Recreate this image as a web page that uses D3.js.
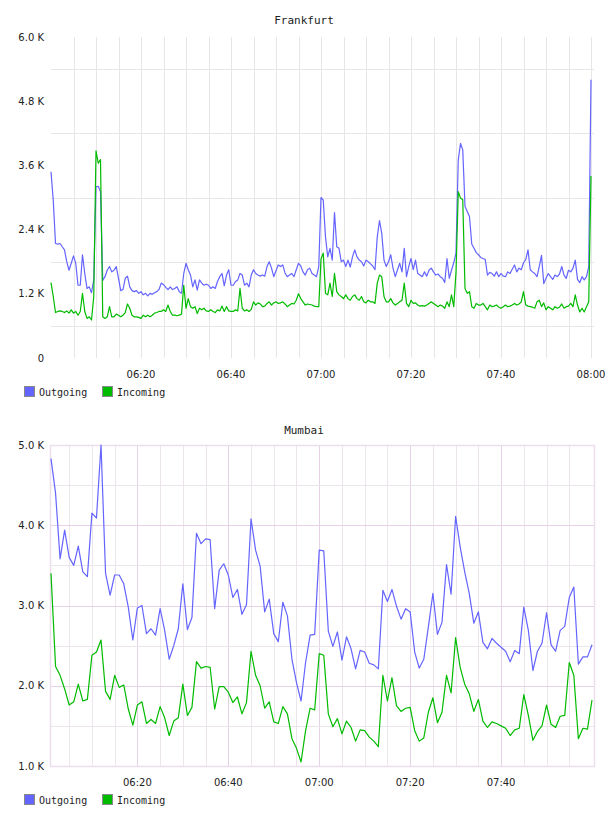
<!DOCTYPE html>
<html><head><meta charset="utf-8">
<script src="https://cdn.jsdelivr.net/npm/d3@7"></script>
<style>
html,body{margin:0;padding:0;background:#fff;}
svg{display:block;}
text{fill:#222;}
</style></head>
<body><svg id="c" width="608" height="816"></svg>
<script>
// ---------- DATA ----------
const seriesNames = ["Outgoing", "Incoming"];
const seriesColors = ["#6464ff", "#00bb00"];

// Frankfurt: one sample every 30 s from 06:00 to 08:00 (values in K)
const frankfurtStart = "06:00";
const frankfurtStepSec = 30;
const frankfurtOutgoing = [
3.48,2.95,2.14,2.13,2.14,2.08,2.02,1.80,1.64,1.77,1.91,1.77,1.36,1.36,1.93,1.58,1.30,1.33,1.22,1.46,
3.20,3.21,3.11,1.45,1.52,1.64,1.71,1.61,1.64,1.71,1.49,1.26,1.28,1.49,1.53,1.33,1.26,1.24,1.26,1.21,
1.24,1.18,1.21,1.16,1.21,1.19,1.22,1.24,1.28,1.40,1.37,1.32,1.28,1.33,1.28,1.30,1.33,1.24,1.21,1.58,
1.77,1.65,1.55,1.33,1.46,1.27,1.46,1.40,1.36,1.38,1.36,1.30,1.33,1.30,1.43,1.52,1.58,1.35,1.55,1.65,
1.36,1.36,1.43,1.46,1.58,1.55,1.36,1.40,1.33,1.55,1.65,1.58,1.55,1.53,1.55,1.53,1.71,1.80,1.68,1.52,
1.63,1.74,1.71,1.74,1.59,1.52,1.55,1.58,1.52,1.65,1.77,1.72,1.61,1.55,1.65,1.68,1.58,1.55,1.52,1.71,
3.00,2.95,2.26,1.89,2.05,1.83,2.72,2.08,2.05,1.80,1.83,1.71,1.83,1.70,1.89,2.02,1.89,1.83,1.80,1.72,
1.83,1.80,1.76,1.72,1.65,2.26,2.57,2.33,1.83,1.71,1.80,1.93,1.68,1.52,1.65,1.77,1.61,2.05,1.52,1.71,
1.86,1.65,1.83,1.58,1.55,1.52,1.61,1.53,1.64,1.68,1.61,1.55,1.57,1.52,1.49,1.41,1.86,1.49,1.64,1.78,
1.96,3.70,4.01,3.89,2.83,2.74,2.64,2.13,2.05,1.97,1.93,1.88,1.86,1.84,1.55,1.60,1.58,1.53,1.61,1.52,
1.58,1.53,1.52,1.61,1.58,1.66,1.74,1.61,1.68,1.65,1.78,1.84,2.02,1.65,1.61,1.58,1.52,1.71,1.92,1.39,
1.49,1.58,1.52,1.47,1.55,1.52,1.57,1.71,1.55,1.49,1.64,1.61,1.68,1.83,1.47,1.41,1.52,1.46,1.52,1.71,
5.20];
const frankfurtIncoming = [
1.41,1.15,0.85,0.87,0.88,0.87,0.85,0.88,0.84,0.90,0.84,0.87,0.80,0.87,1.21,0.87,0.74,0.77,0.71,1.15,
3.87,3.64,3.71,0.77,0.74,0.77,0.96,0.77,0.77,0.82,0.80,0.77,0.80,0.85,1.01,0.93,0.80,0.77,0.77,0.76,
0.74,0.80,0.77,0.80,0.77,0.80,0.84,0.85,0.87,0.87,0.90,0.87,0.99,0.87,0.80,0.80,0.79,0.80,0.82,1.36,
0.93,1.11,0.96,0.93,0.96,0.83,0.93,0.90,0.93,0.88,0.87,0.90,0.87,0.85,0.90,0.88,0.97,0.87,0.96,0.88,
0.87,0.87,0.90,0.88,1.30,0.93,0.88,0.90,0.87,0.91,1.05,0.99,1.03,1.01,0.96,0.97,1.02,1.05,0.99,1.03,
1.05,1.02,1.03,1.05,1.01,0.96,0.99,1.02,1.01,1.08,1.20,1.11,1.05,0.99,1.01,1.00,0.99,0.97,0.96,0.96,
1.85,1.96,1.21,1.18,1.40,1.15,1.58,1.24,1.18,1.15,1.11,1.18,1.11,1.08,1.15,1.18,1.11,1.08,1.15,1.05,
1.03,1.08,1.05,1.05,1.02,1.40,1.55,1.52,1.15,1.05,1.05,1.11,1.03,0.99,1.02,1.05,1.08,1.40,1.02,0.96,
1.08,1.02,1.03,0.99,0.97,0.98,0.97,0.99,1.02,1.05,1.02,0.99,0.96,0.99,0.97,0.93,1.05,0.96,1.18,0.96,
1.60,3.11,2.99,2.96,1.30,1.21,1.24,0.96,0.93,1.02,0.99,0.99,1.02,0.96,0.90,0.99,0.96,0.97,0.99,0.95,
0.93,0.96,0.99,0.96,0.97,0.99,1.02,0.99,1.01,1.05,1.24,0.99,0.97,0.96,0.95,0.93,1.05,1.08,0.96,1.03,
0.90,0.96,0.93,0.90,0.96,0.93,0.95,1.01,0.93,0.96,0.97,1.02,0.96,1.18,0.99,0.86,0.93,0.86,0.96,1.05,
3.40];

// Mumbai: one sample per minute from 06:01 to 08:00 (values in K)
const mumbaiStart = "06:01";
const mumbaiStepSec = 60;
const mumbaiOutgoing = [
4.83,4.40,3.58,3.94,3.60,3.50,3.74,3.42,3.36,4.15,4.09,5.00,3.40,3.13,3.38,3.38,3.27,2.98,2.57,2.97,
3.00,2.65,2.71,2.63,2.96,2.69,2.33,2.50,2.71,3.27,2.70,2.85,3.90,3.77,3.83,3.82,2.96,3.44,3.52,3.38,
3.10,3.20,2.89,3.01,4.08,3.69,3.49,2.92,3.08,2.65,2.55,3.04,2.87,2.33,2.04,1.81,2.29,2.63,2.64,3.69,
3.68,2.68,2.49,2.67,2.32,2.61,2.46,2.21,2.44,2.42,2.28,2.26,2.21,3.19,3.05,3.20,2.99,2.83,2.96,2.92,
2.42,2.22,2.33,2.73,3.15,2.64,2.79,3.51,3.14,4.11,3.73,3.42,3.15,2.78,2.92,2.54,2.46,2.59,2.53,2.48,
2.43,2.30,2.44,2.40,2.98,2.69,2.19,2.43,2.53,2.91,2.51,2.43,2.69,2.74,3.10,3.23,2.27,2.36,2.36,2.51];
const mumbaiIncoming = [
3.40,2.24,2.13,1.96,1.76,1.80,2.02,1.81,1.83,2.38,2.42,2.57,1.93,1.83,2.13,1.98,2.01,1.71,1.51,1.76,
1.80,1.53,1.58,1.53,1.74,1.60,1.38,1.56,1.60,2.02,1.63,1.73,2.30,2.22,2.24,2.23,1.71,1.99,1.99,1.92,
1.79,1.86,1.65,1.79,2.43,2.13,2.00,1.72,1.80,1.55,1.53,1.74,1.65,1.34,1.22,1.05,1.44,1.72,1.70,2.40,
2.38,1.65,1.49,1.59,1.40,1.56,1.48,1.31,1.45,1.44,1.36,1.31,1.24,2.13,1.81,2.10,1.75,1.68,1.72,1.73,
1.44,1.31,1.35,1.67,1.85,1.54,1.67,2.13,1.91,2.60,2.23,2.02,1.90,1.68,1.83,1.56,1.48,1.55,1.53,1.50,
1.47,1.38,1.45,1.47,1.89,1.63,1.32,1.43,1.50,1.76,1.52,1.48,1.62,1.63,2.29,2.13,1.34,1.47,1.46,1.82];

const frankfurtYTicks = [0, 1.2, 2.4, 3.6, 4.8, 6.0];
const mumbaiYTicks = [1.0, 2.0, 3.0, 4.0, 5.0];

// ---------- DRAW ----------
const svg = d3.select("#c");
const parseHM = d3.timeParse("%Y-%m-%d %H:%M");
function times(start, step, n) {
  const t0 = parseHM("2020-01-01 " + start);
  return d3.range(n).map(i => new Date(t0.getTime() + i * step * 1000));
}
const fmtTime = d3.timeFormat("%H:%M");
const fmtK = d => d === 0 ? "0" : d.toFixed(1) + " K";

function chart(opt) {
  const g = svg.append("g");
  const x = d3.scaleTime().domain(opt.xDomain).range(opt.xRange);
  const y = d3.scaleLinear().domain(opt.yDomain).range(opt.yRange);
  const [x0, x1] = opt.frame;
  const yTop = opt.yRange[1], yBot = opt.yRange[0];

  // title
  g.append("text").attr("x", 304).attr("y", opt.titleY).attr("dy", "0.35em").attr("text-anchor", "middle")
    .attr("font-family", "DejaVu Sans Mono").attr("font-size", 11).text(opt.title);

  // vertical grid (every 5 min)
  const minor5 = x.ticks(d3.timeMinute.every(5)).filter(t => x(t) > x0 + 1 && x(t) < x1 - 2);
  g.append("g").selectAll("line").data(minor5).join("line")
    .attr("x1", d => Math.round(x(d)) + 0.5).attr("x2", d => Math.round(x(d)) + 0.5)
    .attr("y1", yTop).attr("y2", yBot)
    .attr("stroke", d => (opt.majorColor && d.getMinutes() % 20 === 0) ? opt.majorColor : opt.minorColor)
    .attr("stroke-width", 1);

  // horizontal grid lines
  g.append("g").selectAll("line").data(opt.hMinor).join("line")
    .attr("x1", x0).attr("x2", x1)
    .attr("y1", d => Math.round(y(d)) + 0.5).attr("y2", d => Math.round(y(d)) + 0.5)
    .attr("stroke", opt.minorColor);
  if (opt.hMajor) {
    g.append("g").selectAll("line").data(opt.hMajor).join("line")
      .attr("x1", x0).attr("x2", x1)
      .attr("y1", d => Math.round(y(d)) + 0.5).attr("y2", d => Math.round(y(d)) + 0.5)
      .attr("stroke", opt.majorColor);
  }
  if (opt.frameColor) {
    g.append("rect").attr("x", x0 + 0.5).attr("y", yTop + 0.5)
      .attr("width", x1 - x0).attr("height", yBot - yTop)
      .attr("fill", "none").attr("stroke", opt.frameColor).attr("stroke-width", 1.5);
  }

  // y labels
  g.append("g").selectAll("text").data(opt.yTicks).join("text")
    .attr("x", 44).attr("y", d => y(d)).attr("dy", "0.35em").attr("text-anchor", "end")
    .attr("font-family", "DejaVu Sans").attr("font-size", 10).text(fmtK);

  // x labels (every 20 min)
  const labelTicks = x.ticks(d3.timeMinute.every(20)).filter(t => opt.showLabel(t));
  g.append("g").selectAll("text").data(labelTicks).join("text")
    .attr("x", d => x(d)).attr("y", opt.xLabelY).attr("dy", "0.35em").attr("text-anchor", "middle")
    .attr("font-family", "DejaVu Sans").attr("font-size", 10).text(fmtTime);

  // lines
  const line = d3.line().x(d => x(d[0])).y(d => y(d[1]));
  opt.series.forEach((s, k) => {
    g.append("path").datum(opt.t.map((t, i) => [t, s[i]]))
      .attr("fill", "none").attr("stroke", seriesColors[k]).attr("stroke-width", 1.2)
      .attr("stroke-linejoin", "round").attr("d", line);
  });

  // legend
  const lg = g.append("g").attr("transform", `translate(0,${opt.legendY})`);
  const lx = [24, 102];
  seriesNames.forEach((n, k) => {
    lg.append("rect").attr("x", lx[k] + 0.5).attr("y", -5.5).attr("width", 10).attr("height", 10)
      .attr("fill", seriesColors[k]).attr("stroke", "#888").attr("stroke-width", 1);
    lg.append("text").attr("x", lx[k] + 15).attr("y", 0).attr("dy", "0.35em")
      .attr("font-family", "DejaVu Sans Mono").attr("font-size", 10).text(n);
  });
}

const fT = times(frankfurtStart, frankfurtStepSec, frankfurtOutgoing.length);
chart({
  title: "Frankfurt", titleY: 20,
  t: fT, series: [frankfurtOutgoing, frankfurtIncoming],
  xDomain: [fT[0], fT[fT.length - 1]], xRange: [51, 591],
  frame: [51, 594],
  yDomain: [0, 6], yRange: [358, 37],
  yTicks: frankfurtYTicks,
  hMinor: [0.6, 1.8, 3.0, 4.2, 5.4],
  minorColor: "#e6e6e6",
  xLabelY: 374, legendY: 392,
  showLabel: t => !(t.getHours() === 6 && t.getMinutes() === 0)
});

const mT = times(mumbaiStart, mumbaiStepSec, mumbaiOutgoing.length);
chart({
  title: "Mumbai", titleY: 430,
  t: mT, series: [mumbaiOutgoing, mumbaiIncoming],
  xDomain: [mT[0], mT[mT.length - 1]], xRange: [51, 592],
  frame: [50, 594],
  yDomain: [1, 5], yRange: [766, 445],
  yTicks: mumbaiYTicks,
  hMinor: [1.5, 2.5, 3.5, 4.5],
  hMajor: [2, 3, 4],
  minorColor: "#ece6ec", majorColor: "#e6d2e6", frameColor: "#ecdeec",
  xLabelY: 782, legendY: 800,
  showLabel: t => !(t.getHours() === 8 && t.getMinutes() === 0)
});
</script></body></html>
